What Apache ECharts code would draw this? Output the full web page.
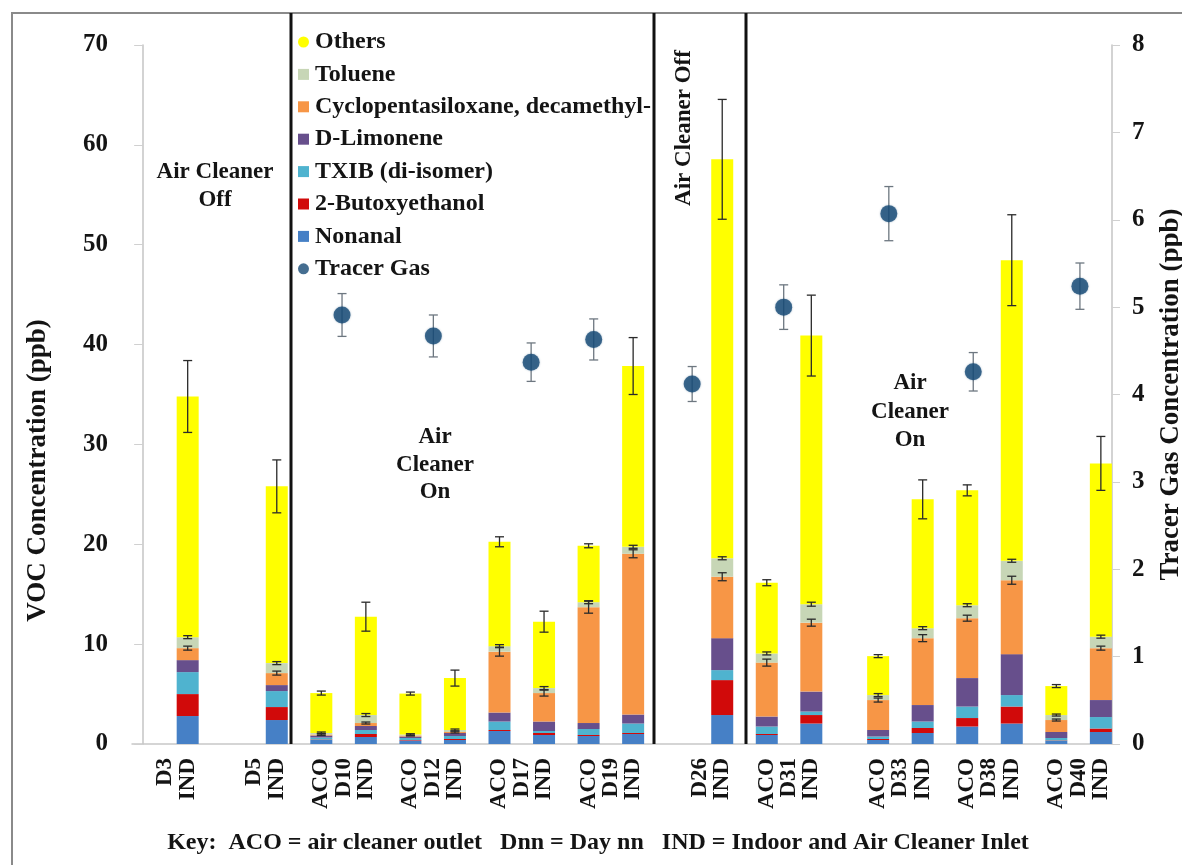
<!DOCTYPE html>
<html><head><meta charset="utf-8">
<script src="https://cdn.jsdelivr.net/npm/echarts@6/dist/echarts.min.js"></script>
<style>html,body{margin:0;padding:0;background:#fff}#c{width:1182px;height:865px}</style>
</head><body><div id="c"></div>
<script>
// ---- tick labels along the x axis (one label per half-slot) ----
const categories = ['', 'D3', 'IND', '', '', 'D5', 'IND', '', 'ACO', 'D10', 'IND', '', 'ACO', 'D12', 'IND', '', 'ACO', 'D17', 'IND', '', 'ACO', 'D19', 'IND', '', '', 'D26', 'IND', '', 'ACO', 'D31', 'IND', '', '', 'ACO', 'D33', 'IND', '', 'ACO', 'D38', 'IND', '', 'ACO', 'D40', 'IND'];

// ---- VOC bar values (ppb), one per ACO/IND label, left to right ----
// D3I, D5I, D10A, D10I, D12A, D12I, D17A, D17I, D19A, D19I, D26I, D31A, D31I, D33A, D33I, D38A, D38I, D40A, D40I
const nonanal   = [2.8, 2.4, 0.4, 0.7, 0.35, 0.4, 1.3, 0.9, 0.8, 1.0, 2.9, 0.9, 2.05, 0.4, 1.1, 1.75, 2.05, 0.3, 1.2];
const butoxy    = [2.2, 1.3, 0.05, 0.3, 0.05, 0.1, 0.1, 0.2, 0.1, 0.1, 3.5, 0.1, 0.85, 0.1, 0.5, 0.85, 1.7, 0.05, 0.35];
const txib      = [2.2, 1.6, 0.2, 0.4, 0.2, 0.3, 0.85, 0.2, 0.6, 0.95, 1.0, 0.75, 0.35, 0.25, 0.65, 1.15, 1.15, 0.25, 1.15];
const limonene  = [1.2, 0.6, 0.2, 0.4, 0.15, 0.3, 0.9, 0.95, 0.6, 0.9, 3.2, 1.0, 2.0, 0.65, 1.65, 2.85, 4.1, 0.6, 1.7];
const cyclo     = [1.2, 1.2, 0.1, 0.3, 0.1, 0.1, 6.1, 2.85, 11.6, 16.1, 6.15, 5.4, 6.9, 3.0, 6.7, 6.0, 7.4, 1.2, 5.2];
const toluene   = [1.1, 1.0, 0.15, 0.8, 0.1, 0.2, 0.55, 0.5, 0.5, 0.7, 1.85, 0.92, 1.85, 0.5, 1.0, 1.3, 1.95, 0.5, 1.15];
const others    = [24.1, 17.7, 4.0, 9.85, 4.1, 5.2, 10.45, 6.65, 5.65, 18.1, 39.95, 7.08, 26.9, 3.9, 12.9, 11.5, 30.1, 2.9, 17.35];
// error half-widths (ppb)
const totalErr  = [3.6, 2.65, 0.2, 1.45, 0.15, 0.8, 0.5, 1.05, 0.2, 2.85, 6.0, 0.3, 4.05, 0.15, 1.95, 0.55, 4.55, 0.15, 2.7];
const tolueneErr= [0.15, 0.15, 0.1, 0.15, 0.08, 0.1, 0.15, 0.15, 0.15, 0.15, 0.15, 0.15, 0.2, 0.15, 0.15, 0.15, 0.15, 0.1, 0.15];
const cycloErr  = [0.2, 0.2, 0.1, 0.1, 0.05, 0.1, 0.45, 0.3, 0.6, 0.4, 0.4, 0.35, 0.35, 0.2, 0.35, 0.3, 0.4, 0.1, 0.2];

// ---- Tracer gas (ppb, right axis) ----
const tracerDays = ['D10', 'D12', 'D17', 'D19', 'D26', 'D31', 'D33', 'D38', 'D40'];
const tracerX    = [8.93, 13.03, 17.42, 20.23, 24.65, 28.76, 33.48, 37.27, 42.06]; // position along the category scale
const tracer     = [4.91, 4.67, 4.37, 4.63, 4.12, 5.0, 6.07, 4.26, 5.24];
const tracerErr  = [0.245, 0.24, 0.22, 0.235, 0.2, 0.255, 0.31, 0.22, 0.265];

// ---- build ----
const FONT = "'Liberation Serif','Times New Roman',serif";
const TXT = '#141414';
const barIdx = categories.map((c, i) => (c === 'ACO' || c === 'IND') ? i : -1).filter(i => i >= 0);
function spread(vals) { const out = categories.map(() => '-'); barIdx.forEach((ci, k) => { out[ci] = vals[k]; }); return out; }
const layers = [
  ['Nonanal', nonanal, '#4680c6'],
  ['2-Butoxyethanol', butoxy, '#d10a0a'],
  ['TXIB (di-isomer)', txib, '#4fb3cf'],
  ['D-Limonene', limonene, '#674f8c'],
  ['Cyclopentasiloxane, decamethyl-', cyclo, '#f79646'],
  ['Toluene', toluene, '#c7d6b6'],
  ['Others', others, '#ffff00']
];
const cum = (arrs) => arrs[0].map((_, k) => arrs.reduce((s, a) => s + a[k], 0));
const cycloTop = cum([nonanal, butoxy, txib, limonene, cyclo]);
const tolTop = cum([nonanal, butoxy, txib, limonene, cyclo, toluene]);
const total = cum([nonanal, butoxy, txib, limonene, cyclo, toluene, others]);
const errData = (top, err) => barIdx.map((ci, k) => [ci, top[k] - err[k], top[k] + err[k]]);

function errItem(capHalf, color, lw) {
  return (params, api) => {
    const x = api.value(0);
    const a = api.coord([x, api.value(1)]), b = api.coord([x, api.value(2)]);
    const style = { stroke: color, lineWidth: lw };
    return { type: 'group', children: [
      { type: 'line', shape: { x1: a[0], y1: a[1], x2: b[0], y2: b[1] }, style },
      { type: 'line', shape: { x1: a[0] - capHalf, y1: a[1], x2: a[0] + capHalf, y2: a[1] }, style },
      { type: 'line', shape: { x1: b[0] - capHalf, y1: b[1], x2: b[0] + capHalf, y2: b[1] }, style }
    ] };
  };
}

const series = layers.map(([name, vals, color]) => ({
  name, type: 'bar', stack: 'voc', data: spread(vals), barWidth: 22,
  itemStyle: { color }, xAxisIndex: 0, yAxisIndex: 0, emphasis: { disabled: true }
}));
series.push(
  { type: 'custom', name: 'errTotal', xAxisIndex: 0, yAxisIndex: 0, z: 5, data: errData(total, totalErr), renderItem: errItem(4.5, '#2a2a2a', 1.3), encode: { x: 0, y: [1, 2] } },
  { type: 'custom', name: 'errTol', xAxisIndex: 0, yAxisIndex: 0, z: 5, data: errData(tolTop, tolueneErr), renderItem: errItem(4.5, '#2a2a2a', 1.3), encode: { x: 0, y: [1, 2] } },
  { type: 'custom', name: 'errCyc', xAxisIndex: 0, yAxisIndex: 0, z: 5, data: errData(cycloTop, cycloErr), renderItem: errItem(4.5, '#2a2a2a', 1.3), encode: { x: 0, y: [1, 2] } },
  { type: 'custom', name: 'errTracer', xAxisIndex: 1, yAxisIndex: 1, z: 6, data: tracer.map((v, i) => [tracerX[i], v - tracerErr[i], v + tracerErr[i]]), renderItem: errItem(4.5, '#6d7780', 1.3), encode: { x: 0, y: [1, 2] } },
  { type: 'scatter', name: 'Tracer Gas', xAxisIndex: 1, yAxisIndex: 1, z: 7, symbol: 'circle', symbolSize: 17,
    data: tracer.map((v, i) => [tracerX[i], v, tracerDays[i]]), itemStyle: { color: '#174a75', shadowBlur: 2, shadowColor: 'rgba(23,74,117,0.45)' } }
);

const chart = echarts.init(document.getElementById('c'), null, { renderer: 'canvas' });
const legendItem = (name, icon) => ({ name, icon });
chart.setOption({
  animation: false,
  backgroundColor: '#ffffff',
  grid: { left: 132, right: 70, top: 45, bottom: 121, containLabel: false, outerBoundsMode: 'none' },
  legend: {
    orient: 'vertical', left: 293, top: 25, itemGap: 8.4, itemWidth: 11, itemHeight: 11,
    textStyle: { fontFamily: FONT, fontWeight: 'bold', fontSize: 24, color: TXT, padding: [0, 0, 0, 1] },
    data: [legendItem('Others', 'circle'), legendItem('Toluene', 'rect'), legendItem('Cyclopentasiloxane, decamethyl-', 'rect'),
      legendItem('D-Limonene', 'rect'), legendItem('TXIB (di-isomer)', 'rect'), legendItem('2-Butoxyethanol', 'rect'),
      legendItem('Nonanal', 'rect'), legendItem('Tracer Gas', 'circle')],
    selectedMode: false
  },
  xAxis: [
    { type: 'category', data: categories, boundaryGap: true,
      axisLine: { lineStyle: { color: '#c8c8c8', width: 1.5 } }, axisTick: { show: false },
      axisLabel: { interval: 0, rotate: 90, margin: 14, fontFamily: FONT, fontWeight: 'bold', fontSize: 23, color: TXT },
      name: 'Key:  ACO = air cleaner outlet   Dnn = Day nn   IND = Indoor and Air Cleaner Inlet',
      nameLocation: 'middle', nameGap: 87,
      nameTextStyle: { fontFamily: FONT, fontWeight: 'bold', fontSize: 24, color: TXT, padding: [0, 48, 0, 0] } },
    { type: 'value', min: -0.5, max: 43.5, show: false }
  ],
  yAxis: [
    { type: 'value', min: 0, max: 70, interval: 10, position: 'left',
      axisLine: { show: true, lineStyle: { color: '#c4c4c4', width: 1.5 } },
      axisTick: { show: true, inside: false, length: 9, lineStyle: { color: '#d0d0d0' } },
      splitLine: { show: false },
      axisLabel: { margin: 24, fontFamily: FONT, fontWeight: 'bold', fontSize: 25, color: TXT },
      name: 'VOC Concentration (ppb)', nameLocation: 'middle', nameRotate: 90, nameGap: 80,
      nameTextStyle: { fontFamily: FONT, fontWeight: 'bold', fontSize: 27, color: TXT, padding: [0, 152, 0, 0] } },
    { type: 'value', min: 0, max: 8, interval: 1, position: 'right',
      axisLine: { show: true, lineStyle: { color: '#c4c4c4', width: 1.5 } },
      axisTick: { show: true, inside: false, length: 8, lineStyle: { color: '#d0d0d0' } },
      splitLine: { show: false },
      axisLabel: { margin: 20, fontFamily: FONT, fontWeight: 'bold', fontSize: 25, color: TXT },
      name: 'Tracer Gas Concentration (ppb)', nameLocation: 'middle', nameRotate: 90, nameGap: 46,
      nameTextStyle: { fontFamily: FONT, fontWeight: 'bold', fontSize: 27, color: TXT } }
  ],
  series,
  graphic: [
    { type: 'rect', z: -1, shape: { x: 12, y: 13, width: 1200, height: 900 }, style: { fill: 'none', stroke: '#8a8a8a', lineWidth: 2 } },
    { type: 'line', z: 1, shape: { x1: 291, y1: 13, x2: 291, y2: 744 }, style: { stroke: '#111', lineWidth: 3 } },
    { type: 'line', z: 1, shape: { x1: 654, y1: 13, x2: 654, y2: 744 }, style: { stroke: '#111', lineWidth: 3 } },
    { type: 'line', z: 1, shape: { x1: 746, y1: 13, x2: 746, y2: 744 }, style: { stroke: '#111', lineWidth: 3 } },
    { type: 'text', z: 10, x: 215, y: 186, style: { text: 'Air Cleaner\nOff', align: 'center', verticalAlign: 'middle', lineHeight: 28, font: "bold 23px 'Liberation Serif', serif", fill: TXT } },
    { type: 'text', z: 10, x: 435, y: 465, style: { text: 'Air\nCleaner\nOn', align: 'center', verticalAlign: 'middle', lineHeight: 27.5, font: "bold 23px 'Liberation Serif', serif", fill: TXT } },
    { type: 'text', z: 10, x: 684, y: 128, rotation: Math.PI / 2, style: { text: 'Air Cleaner Off', align: 'center', verticalAlign: 'middle', font: "bold 23px 'Liberation Serif', serif", fill: TXT } },
    { type: 'text', z: 10, x: 910, y: 412, style: { text: 'Air\nCleaner\nOn', align: 'center', verticalAlign: 'middle', lineHeight: 28.5, font: "bold 23px 'Liberation Serif', serif", fill: TXT } }
  ]
});
</script>
</body></html>
